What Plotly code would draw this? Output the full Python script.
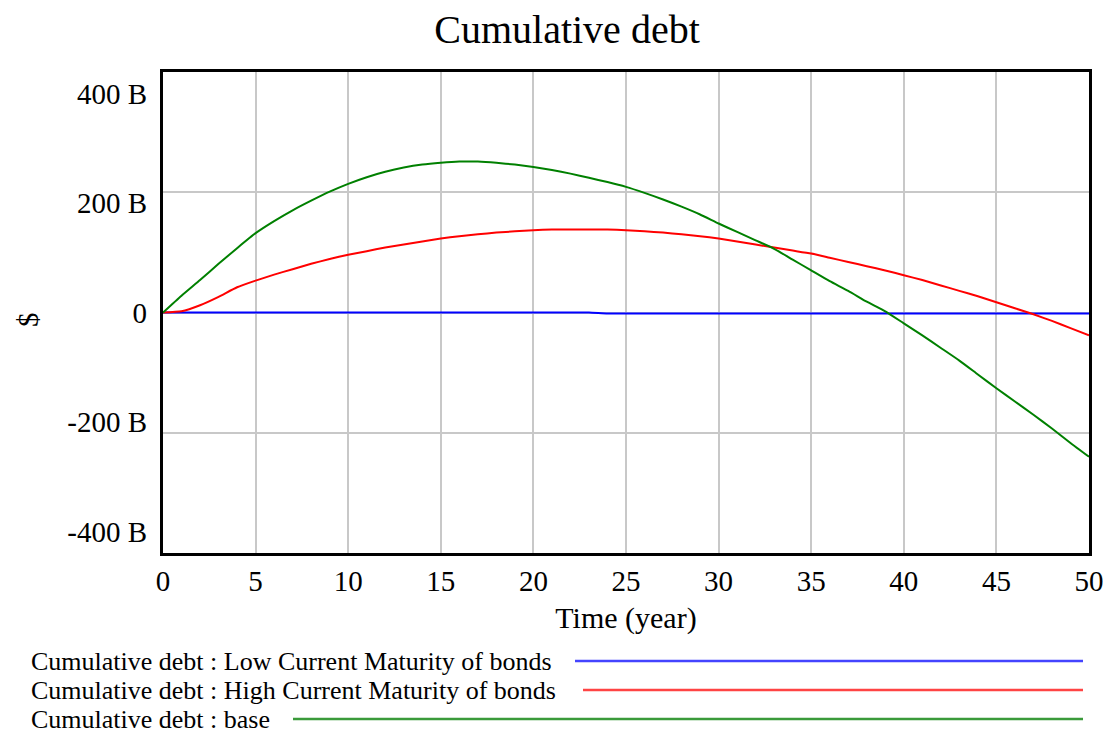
import plotly.graph_objects as go

# ---- data (values in billions of $) ----
years = list(range(0, 51))

low_maturity = [0.0] * 24 + [-1.5] * 27

high_maturity = [0, 2, 12, 26, 42, 53, 63, 72, 81, 89,
                 96, 102, 108, 113, 118, 123, 127, 130, 133, 135,
                 137, 138, 138, 138, 138, 137, 135, 133, 130, 127,
                 123, 118, 113, 108, 103, 98, 91, 84, 77, 70,
                 62, 54, 45, 36, 27, 17, 7, -3, -14, -26,
                 -38]

base = [0, 28, 54, 81, 107, 132, 152, 170, 186, 201,
        214, 225, 234, 241, 246, 249, 251, 251, 249, 246,
        242, 237, 231, 224, 217, 209, 199, 188, 176, 163,
        148, 134, 120, 106, 88, 70, 52, 36, 18, 2,
        -18, -38, -59, -80, -103, -126, -148, -170, -193, -217,
        -240]

series_names = ["Cumulative debt : Low Current Maturity of bonds",
                "Cumulative debt : High Current Maturity of bonds",
                "Cumulative debt : base"]
series_colors = ["#0000ff", "#ff0000", "#008000"]
legend_colors = ["#4444ff", "#ff4444", "#3a9a3a"]

x_ticks = [0, 5, 10, 15, 20, 25, 30, 35, 40, 45, 50]
y_tickvals = [400, 200, 0, -200, -400]
y_ticktext = ["400 B", "200 B", "0", "-200 B", "-400 B"]

FONT = "Liberation Serif, Times New Roman, serif"
# page body has an 8px margin, so the figure starts 8px in from the window's corner
OFF = 8
W, H = 1111 - OFF, 735 - OFF
PL, PR, PT, PB = 163, 1089, 72, 553          # target plot box in window pixels
L, R, T, B = PL - OFF, W - (PR - OFF), PT - OFF, H - (PB - OFF)
LABEL_INSET = 0.91   # Vensim draws the y tick labels pulled in toward the centre

fig = go.Figure()
for name, vals, col in zip(series_names, [low_maturity, high_maturity, base], series_colors):
    fig.add_trace(go.Scatter(x=years, y=vals, mode="lines", name=name,
                             line=dict(color=col, width=2, shape="spline", smoothing=0.5),
                             showlegend=False, hoverinfo="x+y"))
# invisible helper so the label axis is drawn
fig.add_trace(go.Scatter(x=[years[0]], y=[0], mode="markers", marker=dict(opacity=0),
                         yaxis="y2", showlegend=False, hoverinfo="skip"))

fig.update_layout(
    width=W, height=H,
    margin=dict(l=L, r=R, t=T, b=B, pad=0, autoexpand=False),
    paper_bgcolor="white", plot_bgcolor="white",
    font=dict(family=FONT, color="black", size=29),
    title=dict(text="Cumulative debt", x=(567 - OFF) / W, xref="container", xanchor="center",
               y=1 - (29 - OFF) / H, yref="container", yanchor="middle",
               font=dict(family=FONT, size=40, color="black")),
    showlegend=False,
    yaxis2=dict(overlaying="y", side="left", anchor="x", range=[-400, 400],
                tickvals=[v * LABEL_INSET for v in y_tickvals], ticktext=y_ticktext,
                showgrid=False, zeroline=False, showline=False, ticks="",
                automargin=False, tickfont=dict(size=29), ticklabelstandoff=15),
)

fig.update_xaxes(range=[0, 50], tickvals=x_ticks, showgrid=True, gridcolor="#c8c8c8", gridwidth=2,
                 showline=True, linecolor="black", linewidth=3, mirror=True, zeroline=False,
                 automargin=False,
                 ticks="", tickfont=dict(size=29), ticklabelstandoff=0,
                 title=dict(text="Time (year)", font=dict(size=30), standoff=12))
fig.layout.yaxis.update(range=[-400, 400], tickvals=y_tickvals, showticklabels=False,
                        showgrid=True, gridcolor="#c8c8c8", gridwidth=2,
                        showline=True, linecolor="black", linewidth=3, mirror=True,
                        zeroline=False, automargin=False, ticks="")

pw, ph = PR - PL, PB - PT
# y axis title "$", rotated
fig.add_annotation(text="$", xref="paper", yref="paper",
                   x=(28 - PL) / pw, y=1 - (320 - PT) / ph, xanchor="center", yanchor="middle",
                   textangle=-90, showarrow=False, borderpad=0,
                   font=dict(family=FONT, size=29, color="black"))

# custom legend below the chart
legend_rows_y = [661, 690, 719]
legend_line_start = [575, 583, 293]
legend_line_end = 1083
for name, col, yy, xs in zip(series_names, legend_colors, legend_rows_y, legend_line_start):
    ypap = 1 - (yy - PT) / ph
    fig.add_annotation(text=name, xref="paper", yref="paper",
                       x=(29 - PL) / pw, y=ypap,
                       xanchor="left", yanchor="middle", showarrow=False,
                       font=dict(family=FONT, size=26, color="black"))
    fig.add_shape(type="line", xref="paper", yref="paper",
                  x0=(xs - PL) / pw, x1=(legend_line_end - PL) / pw,
                  y0=ypap, y1=ypap,
                  line=dict(color=col, width=2.5))

fig.write_html("out.html")
